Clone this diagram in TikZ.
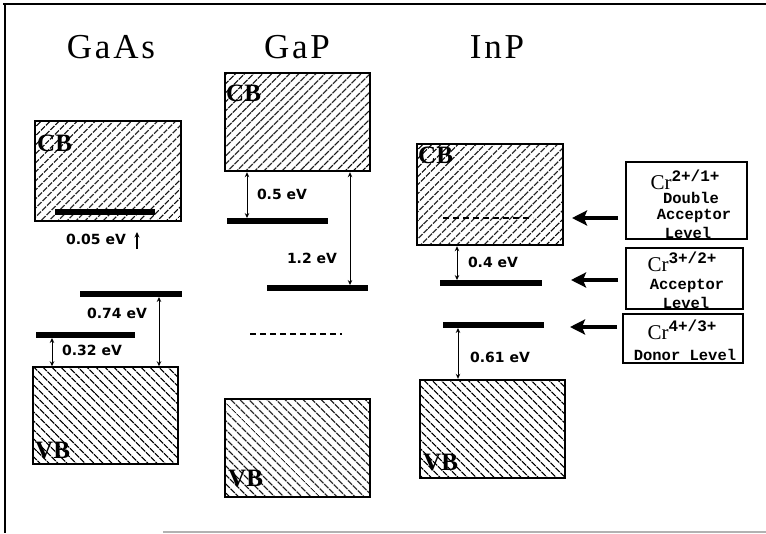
\documentclass[tikz,border=0pt]{standalone}
\usepackage{fontspec}
\setsansfont{DejaVu Sans}
\newfontfamily\monofont{Liberation Mono}
\newfontfamily\titlefont[LetterSpace=8]{Liberation Serif}
\newfontfamily\serfont{Liberation Serif}
\usetikzlibrary{arrows.meta,patterns.meta}
\begin{document}
\begin{tikzpicture}[x=1pt,y=-1pt,
 band/.style={draw, line width=2.4pt, inner sep=0pt, rectangle},
 cbband/.style={band, pattern={Lines[angle=45,distance=6.5pt,line width=1.5pt]}},
 vbband/.style={band, pattern={Lines[angle=-45,distance=6.5pt,line width=1.5pt]}},
 level/.style={fill=black, inner sep=0pt, minimum height=5.5pt, rectangle},
 dlevel/.style={dash pattern=on 6pt off 4pt, line width=2.8pt},
 gap/.style={line width=1pt, {Stealth[length=5pt,width=4.5pt]}-{Stealth[length=5pt,width=4.5pt]}},
 upgap/.style={line width=1.3pt, -{Stealth[length=5.5pt,width=5pt]}},
 ev/.style={font=\sffamily\bfseries\fontsize{14}{16}\selectfont, inner sep=0pt},
 title/.style={font=\titlefont\fontsize{35}{38}\selectfont, inner sep=0pt},
 bandlab/.style={font=\serfont\bfseries\fontsize{25}{27}\selectfont, inner sep=0pt, anchor=west},
 crbox/.style={draw, line width=1.2pt, inner sep=0pt, rectangle},
 crtxt/.style={font=\monofont\bfseries\fontsize{15.5}{17}\selectfont, inner sep=0pt},
 crsym/.style={font=\serfont\fontsize{21}{23}\selectfont, inner sep=0pt},
 bigarrow/.style={line width=4pt, -{Stealth[length=15pt,width=15pt,inset=3pt]}}
]
\useasboundingbox (0,0) rectangle (766,533);
\newcommand{\crsup}[1]{\raisebox{8pt}{\monofont\bfseries\fontsize{16}{17}\selectfont #1}}
% frame
\draw[line width=1.5pt] (3,4) -- (766,4);
\draw[line width=2pt] (5,4) -- (5,533);
\draw[gray!60, line width=1.5pt] (163,532) -- (766,532);

% titles
\node[title] (tGaAs) at (111,47) {GaAs};
\node[title] (tGaP) at (297,47) {GaP};
\node[title] (tInP) at (497,47) {InP};

% ---------- GaAs ----------
\node[cbband, minimum width=146pt, minimum height=100pt] (gaasCB) at (108,171) {};
\node[vbband, minimum width=145pt, minimum height=97pt] (gaasVB) at (105.5,415.5) {};
\node[bandlab] (gaasCBl) at (37,143) {CB};
\node[bandlab] (gaasVBl) at (35,450) {VB};
\node[level, minimum width=100pt] (gaasL1) at (105,212) {};
\node[level, minimum width=99pt] (gaasL2) at (85.5,335) {};
\node[level, minimum width=102pt] (gaasL3) at (131,294) {};
\coordinate (gaasA0) at (137,249);
\coordinate (gaasA1) at (137,232);
\draw[upgap] (gaasA0) -- (gaasA1);
\node[ev] (gaasE1) at (96,239) {0.05 eV};
\draw[gap] (gaasL2.south -| 52,0) -- (gaasVB.north -| 52,0);
\node[ev] (gaasE2) at (92,350) {0.32 eV};
\draw[gap] (gaasL3.south -| 159,0) -- (gaasVB.north -| 159,0);
\node[ev] (gaasE3) at (117,313) {0.74 eV};

% ---------- GaP ----------
\node[cbband, minimum width=145pt, minimum height=98pt] (gapCB) at (297.5,122) {};
\node[vbband, minimum width=145pt, minimum height=98pt] (gapVB) at (297.5,448) {};
\node[bandlab] (gapCBl) at (226,93) {CB};
\node[bandlab] (gapVBl) at (228,478) {VB};
\node[level, minimum width=101pt] (gapL1) at (277.5,221) {};
\node[level, minimum width=101pt] (gapL2) at (317.5,288) {};
\coordinate (gapD1) at (250,334);
\coordinate (gapD2) at (342,334);
\draw[dlevel] (gapD1) -- (gapD2);
\draw[gap] (gapCB.south -| 247,0) -- (gapL1.north -| 247,0);
\node[ev] (gapE1) at (282,194) {0.5 eV};
\draw[gap] (gapCB.south -| 350,0) -- (gapL2.north -| 350,0);
\node[ev] (gapE2) at (312,258) {1.2 eV};

% ---------- InP ----------
\node[cbband, minimum width=146pt, minimum height=101pt] (inpCB) at (490,194.5) {};
\node[vbband, minimum width=145pt, minimum height=98pt] (inpVB) at (492.5,429) {};
\node[bandlab] (inpCBl) at (418,155) {CB};
\node[bandlab] (inpVBl) at (423,462) {VB};
\coordinate (inpD1) at (443,218);
\coordinate (inpD2) at (533,218);
\draw[dlevel, line width=2.2pt] (inpD1) -- (inpD2);
\node[level, minimum width=102pt] (inpL1) at (491,283) {};
\node[level, minimum width=101pt] (inpL2) at (493.5,325) {};
\draw[gap] (inpCB.south -| 457,0) -- (inpL1.north -| 457,0);
\node[ev] (inpE1) at (493,262) {0.4 eV};
\draw[gap] (inpL2.south -| 458,0) -- (inpVB.north -| 458,0);
\node[ev] (inpE2) at (500,357) {0.61 eV};

% ---------- Cr boxes ----------
\node[crbox, minimum width=121pt, minimum height=77pt] (b1) at (686.5,200.5) {};
\node[crsym] (b1a) at (685,180) {Cr\crsup{2+/1+}};
\node[crtxt] (b1b) at (691,198) {Double};
\node[crtxt] (b1c) at (694,216) {Acceptor};
\node[crtxt] (b1d) at (688,233) {Level};

\node[crbox, minimum width=117pt, minimum height=61pt] (b2) at (684.5,278.5) {};
\node[crsym] (b2a) at (682,262) {Cr\crsup{3+/2+}};
\node[crtxt] (b2b) at (687,286) {Acceptor};
\node[crtxt] (b2c) at (686,303) {Level};

\node[crbox, minimum width=120pt, minimum height=49pt] (b3) at (683,338.5) {};
\node[crsym] (b3a) at (682,330) {Cr\crsup{4+/3+}};
\node[crtxt] (b3b) at (685,355) {Donor Level};

\coordinate (a1s) at (618,218); \coordinate (a1e) at (572,218);
\coordinate (a2s) at (618,280); \coordinate (a2e) at (571,280);
\coordinate (a3s) at (617,327); \coordinate (a3e) at (570,327);
\draw[bigarrow] (a1s) -- (a1e);
\draw[bigarrow] (a2s) -- (a2e);
\draw[bigarrow] (a3s) -- (a3e);
\end{tikzpicture}
\end{document}
